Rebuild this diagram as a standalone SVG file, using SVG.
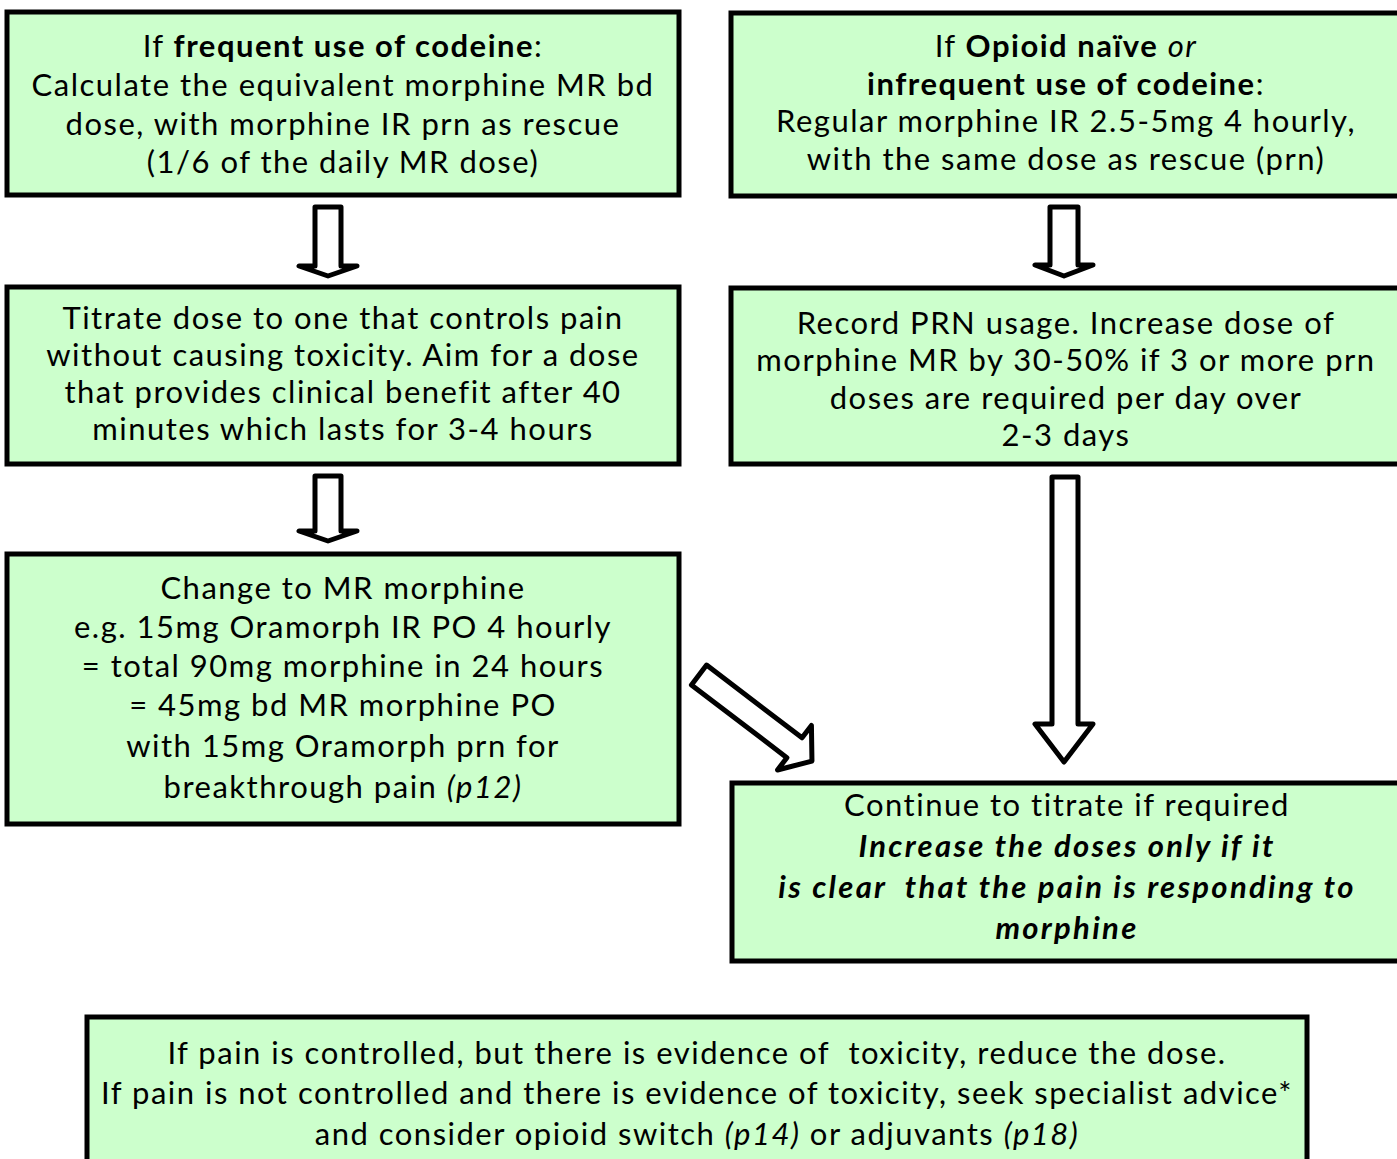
<svg xmlns="http://www.w3.org/2000/svg" width="1397" height="1159" viewBox="0 0 1397 1159">
<style>
  .box { fill: #ccffcc; stroke: #000; stroke-width: 5; }
  .arr { fill: #fff; stroke: #000; stroke-width: 5; stroke-linejoin: round; }
  text { font-family: Lato, "Open Sans", "Liberation Sans", sans-serif; font-size: 31px; letter-spacing: 1.5px; fill: #000; text-anchor: middle; }
  .b { font-weight: bold; }
  .i { font-style: italic; }
  .bi { font-weight: bold; font-style: italic; letter-spacing: 2.3px; }
</style>
<rect width="1397" height="1159" fill="#fff"/>

<g id="connectors">
  <polygon class="arr" points="315,207 341,207 341,266 357,266 328,276 299,266 315,266"/>
  <polygon class="arr" points="315,476 341,476 341,531 357,531 328,541 299,531 315,531"/>
  <polygon class="arr" points="1050,207 1078,207 1078,265 1093,265 1064,276 1035,265 1050,265"/>
  <polygon class="arr" points="1052,477 1078,477 1078,724 1093,724 1064,762 1035,724 1052,724"/>
  <polygon class="arr" transform="translate(699,675) rotate(37.3)" points="0,-12.5 120,-12.5 120,-28 142,0 120,28 120,12.5 0,12.5"/>
</g>

<g id="node-frequent">
  <rect class="box" x="7" y="12" width="672" height="183"/>
  <text x="343" y="57">If <tspan class="b">frequent use of codeine</tspan>:</text>
  <text x="343" y="96">Calculate the equivalent morphine MR bd</text>
  <text x="343" y="135">dose, with morphine IR prn as rescue</text>
  <text x="343" y="173">(1/6 of the daily MR dose)</text>
</g>

<g id="node-naive">
  <rect class="box" x="731" y="13" width="672" height="183"/>
  <text x="1066" y="57">If <tspan class="b">Opioid naïve</tspan> <tspan class="i">or</tspan></text>
  <text x="1066" y="95"><tspan class="b">infrequent use of codeine</tspan>:</text>
  <text x="1066" y="132">Regular morphine IR 2.5-5mg 4 hourly,</text>
  <text x="1066" y="170">with the same dose as rescue (prn)</text>
</g>

<g id="node-titrate">
  <rect class="box" x="7" y="287" width="672" height="177"/>
  <text x="343" y="329">Titrate dose to one that controls pain</text>
  <text x="343" y="366">without causing toxicity. Aim for a dose</text>
  <text x="343" y="403">that provides clinical benefit after 40</text>
  <text x="343" y="440">minutes which lasts for 3-4 hours</text>
</g>

<g id="node-record">
  <rect class="box" x="731" y="288" width="672" height="176"/>
  <text x="1066" y="334">Record PRN usage. Increase dose of</text>
  <text x="1066" y="371">morphine MR by 30-50% if 3 or more prn</text>
  <text x="1066" y="409">doses are required per day over</text>
  <text x="1066" y="446">2-3 days</text>
</g>

<g id="node-change">
  <rect class="box" x="7" y="554" width="672" height="270"/>
  <text x="343" y="599">Change to MR morphine</text>
  <text x="343" y="638">e.g. 15mg Oramorph IR PO 4 hourly</text>
  <text x="343" y="677">= total 90mg morphine in 24 hours</text>
  <text x="343" y="716">= 45mg bd MR morphine PO</text>
  <text x="343" y="757">with 15mg Oramorph prn for</text>
  <text x="343" y="798">breakthrough pain <tspan class="i">(p12)</tspan></text>
</g>

<g id="node-continue">
  <rect class="box" x="732" y="783" width="672" height="178"/>
  <text x="1067" y="816">Continue to titrate if required</text>
  <text x="1067" y="857" class="bi">Increase the doses only if it</text>
  <text x="1067" y="898" class="bi">is clear&#160; that the pain is responding to</text>
  <text x="1067" y="939" class="bi">morphine</text>
</g>

<g id="node-toxicity">
  <rect class="box" x="87" y="1017" width="1220" height="160"/>
  <text x="697" y="1064">If pain is controlled, but there is evidence of&#160; toxicity, reduce the dose.</text>
  <text x="697" y="1104">If pain is not controlled and there is evidence of toxicity, seek specialist advice*</text>
  <text x="697" y="1145">and consider opioid switch <tspan class="i">(p14)</tspan> or adjuvants <tspan class="i">(p18)</tspan></text>
</g>
</svg>
